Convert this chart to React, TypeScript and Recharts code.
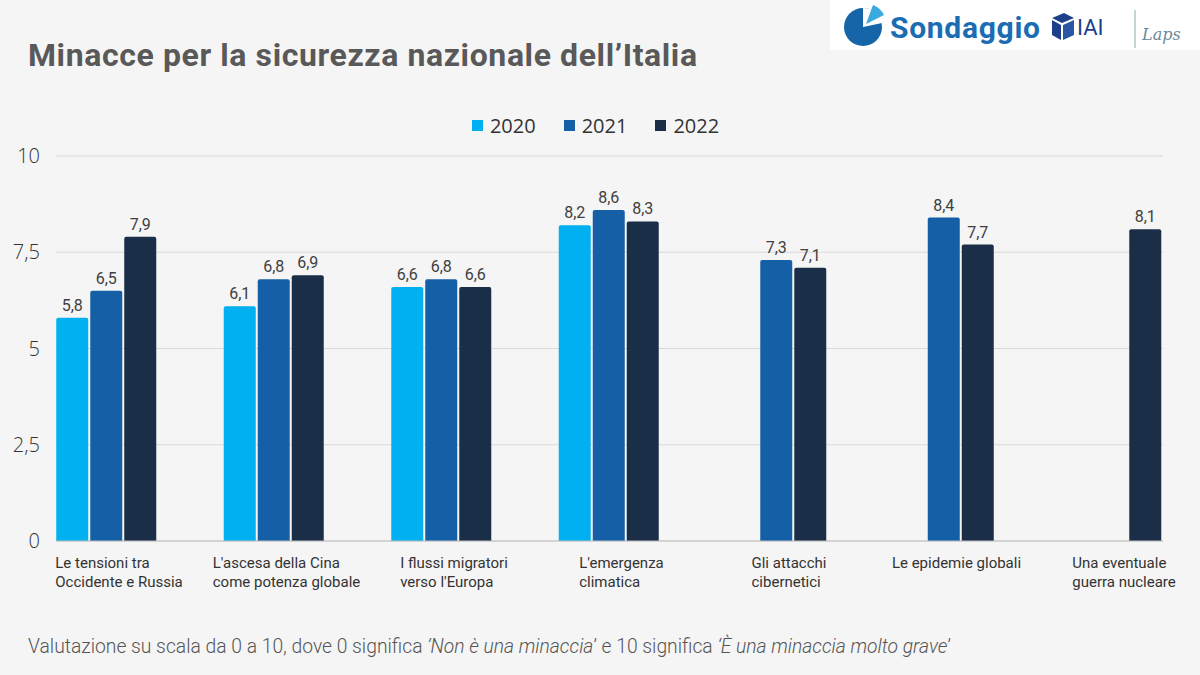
import React from "react";
import {
  BarChart,
  Bar,
  XAxis,
  YAxis,
  CartesianGrid,
  LabelList,
} from "recharts";

// categories (index matches position on the x axis)
const categories = [
  "Le tensioni tra\nOccidente e Russia",
  "L'ascesa della Cina\ncome potenza globale",
  "I flussi migratori\nverso l'Europa",
  "L'emergenza\nclimatica",
  "Gli attacchi\ncibernetici",
  "Le epidemie globali",
  "Una eventuale\nguerra nucleare",
];

const values2020 = [5.8, 6.1, 6.6, 8.2, null, null, null];
const values2021 = [6.5, 6.8, 6.8, 8.6, 7.3, 8.4, null];
const values2022 = [7.9, 6.9, 6.6, 8.3, 7.1, 7.7, 8.1];

const yTicks = [0, 2.5, 5, 7.5, 10];

const series = [
  { key: "y2020", name: "2020", color: "#00b0f0" },
  { key: "y2021", name: "2021", color: "#155fa6" },
  { key: "y2022", name: "2022", color: "#1b2e47" },
];

const data = categories.map((label, i) => ({
  idx: i,
  label,
  y2020: values2020[i],
  y2021: values2021[i],
  y2022: values2022[i],
}));

const fmt = (v: number) => String(v).replace(".", ",");

const CategoryTick = ({ x, y, payload }: any) => {
  const text = categories[payload.value] ?? "";
  return (
    <foreignObject x={x - 84 + 13} y={y + 13} width={168} height={60}>
      <div style={{ display: "flex", justifyContent: "center" }}>
        <div
          style={{
            textAlign: "left",
            whiteSpace: "pre",
            fontFamily: "Roboto, sans-serif",
            fontSize: 15,
            lineHeight: "19px",
            color: "#333",
          }}
        >
          {text}
        </div>
      </div>
    </foreignObject>
  );
};

const ValueLabel = ({ x, y, width, value }: any) => {
  if (value == null) return null;
  return (
    <text
      x={x + width / 2}
      y={y - 7}
      textAnchor="middle"
      fontFamily="Roboto, sans-serif"
      fontSize={16}
      fill="#404040"
    >
      {fmt(value)}
    </text>
  );
};

function Logo() {
  return (
    <svg
      width={370}
      height={50}
      style={{ position: "absolute", left: 830, top: 0, background: "#fff" }}
    >
      {/* pie */}
      <circle cx={33} cy={27} r={19} fill="#1565a8" />
      <path d="M33 27 L33 8 A19 19 0 0 1 52 23 Z" fill="#ffffff" />
      <path d="M36 24 L43 5 A20 20 0 0 1 54 15 Z" fill="#39a9e0" />
      <text
        x={60}
        y={38}
        fontFamily="Roboto, sans-serif"
        fontWeight={700}
        fontSize={30}
        fill="#1a6db3"
        textLength={150}
      >
        Sondaggio
      </text>
      {/* cube */}
      <path d="M222 18 L234 13 L244 18 L232 23 Z" fill="#1e3f8a" />
      <path d="M222 20 L231 25 L231 40 L222 35 Z" fill="#1e3f8a" />
      <path d="M233 25 L244 20 L244 35 L233 40 Z" fill="#2b56a6" />
      <text x={247} y={35} fontFamily="Roboto, sans-serif" fontSize={22} fill="#1e3f8a">
        IAI
      </text>
      <line x1={305} y1={10} x2={305} y2={48} stroke="#8aa" strokeWidth={1} />
      <text
        x={312}
        y={40}
        fontFamily="DejaVu Serif, serif"
        fontStyle="italic"
        fontSize={16}
        fill="#6a8a9a"
      >
        Laps
      </text>
    </svg>
  );
}

export default function App() {
  return (
    <div
      style={{
        position: "fixed",
        left: 0,
        top: 0,
        width: 1200,
        height: 675,
        background: "#f5f5f5",
        overflow: "hidden",
        fontFamily: "Roboto, sans-serif",
      }}
    >
      <Logo />
      <div
        style={{
          position: "absolute",
          left: 28,
          top: 36,
          fontSize: 32,
          fontWeight: 700,
          color: "#595959",
          letterSpacing: 0.6,
        }}
      >
        Minacce per la sicurezza nazionale dell’Italia
      </div>

      <div
        style={{
          position: "absolute",
          left: 0,
          top: 112,
          width: 1191,
          display: "flex",
          justifyContent: "center",
          gap: 28,
          fontFamily: "'Open Sans', sans-serif",
          fontSize: 20,
          color: "#333",
        }}
      >
        {series.map((s) => (
          <div key={s.key} style={{ display: "flex", alignItems: "center" }}>
            <span
              style={{
                width: 11,
                height: 11,
                background: s.color,
                display: "inline-block",
                marginRight: 7,
              }}
            />
            <span>{s.name}</span>
          </div>
        ))}
      </div>

      <BarChart
        width={1200}
        height={675}
        data={data}
        margin={{ top: 156, right: 37, bottom: 74, left: 0 }}
        barGap={2}
        style={{ position: "absolute", left: 0, top: 0 }}
      >
        <CartesianGrid vertical={false} stroke="#d9d9d9" />
        <XAxis
          dataKey="idx"
          type="number"
          domain={[-0.2985, 6.3104]}
          ticks={[0, 1, 2, 3, 4, 5, 6]}
          allowDataOverflow
          height={60}
          tickLine={false}
          tickSize={0}
          tickMargin={0}
          axisLine={{ stroke: "#bfbfbf" }}
          tick={<CategoryTick />}
          interval={0}
        />
        <YAxis
          width={56}
          domain={[0, 10]}
          ticks={yTicks}
          tickFormatter={fmt}
          axisLine={false}
          tickLine={false}
          tickSize={0}
          tickMargin={16}
          tick={{
            fill: "#333",
            fontSize: 20,
            fontFamily: "'Open Sans', sans-serif",
            fontWeight: 300,
          }}
        />
        {series.map((s) => (
          <Bar
            key={s.key}
            dataKey={s.key}
            name={s.name}
            fill={s.color}
            barSize={32}
            radius={[2, 2, 0, 0]}
            isAnimationActive={false}
          >
            <LabelList dataKey={s.key} content={<ValueLabel />} />
          </Bar>
        ))}
      </BarChart>

      <div
        style={{
          position: "absolute",
          left: 28,
          top: 635,
          fontSize: 19.3,
          fontWeight: 300,
          color: "#555",
        }}
      >
        Valutazione su scala da 0 a 10, dove 0 significa{" "}
        <i>‘Non è una minaccia</i>’ e 10 significa <i>‘È una minaccia molto grave</i>’
      </div>
    </div>
  );
}
